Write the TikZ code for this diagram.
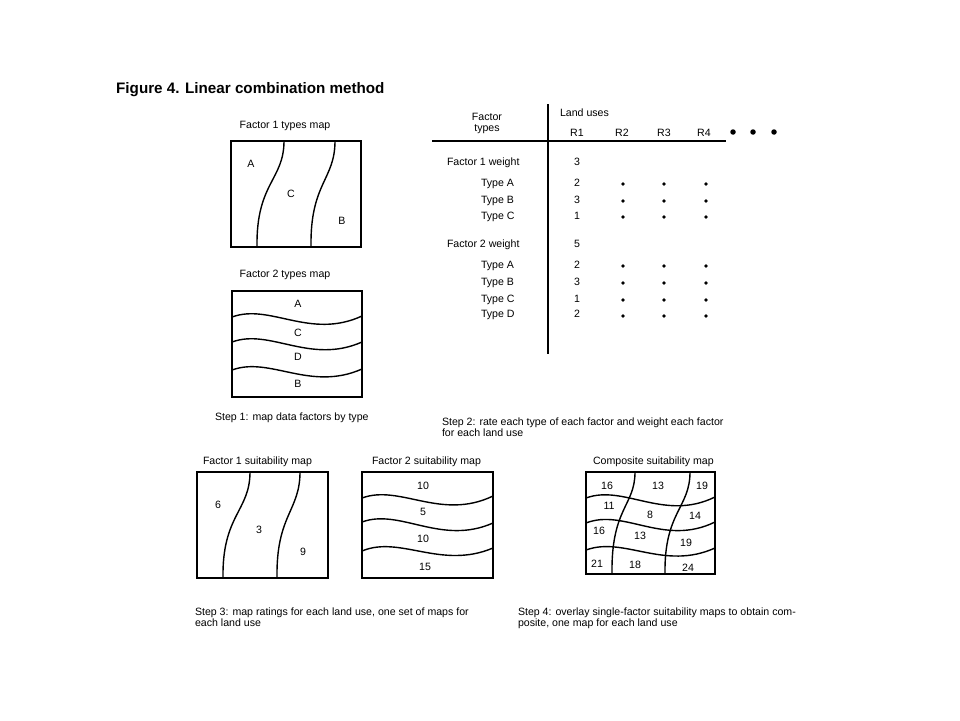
\documentclass[tikz,border=0pt]{standalone}
\usepackage{fontspec}
\setmainfont{Liberation Sans}
\newcommand\myfs{\fontsize{10.6pt}{11pt}\selectfont}
\newcommand\mytitlefs{\fontsize{15.2pt}{17pt}\selectfont\bfseries}
\begin{document}
\begin{tikzpicture}[x=1pt,y=-1pt,
  txt/.style={font=\myfs, inner sep=0pt, outer sep=0pt},
  lab/.style={font=\myfs, inner sep=0pt, anchor=center},
  mapbox/.style={draw, line width=1.4pt},
  bound/.style={line width=1.4pt},
  rule/.style={line width=1.5pt},
  bigdot/.style={fill, circle, inner sep=0pt, minimum size=5.5pt},
  smalldot/.style={fill, circle, inner sep=0pt, minimum size=3.8pt}]
\useasboundingbox (0,0) rectangle (960,720);
\fill[white] (0,0) rectangle (960,720);

% title
\node[font=\mytitlefs, inner sep=0pt, anchor=base west] (title) at (116,93) {Figure 4. Linear combination method};

% ---------- Factor 1 types map ----------
\node[txt, anchor=base] (f1t) at (285,128) {Factor 1 types map};
\draw[mapbox] (231,141) rectangle (361,247);
\draw[bound] (284,141) .. controls (284,180) and (256,183) .. (257,247);
\draw[bound] (335,141) .. controls (335,180) and (310,183) .. (311,247);
\node[lab] (f1a) at (251,164) {A};
\node[lab] (f1c) at (291,194) {C};
\node[lab] (f1b) at (342,221) {B};

% ---------- Factor 2 types map ----------
\node[txt, anchor=base] (f2t) at (285,277) {Factor 2 types map};
\draw[mapbox] (232,291) rectangle (362,397);
\draw[bound] (232,317) .. controls (270,303) and (310,340) .. (362,316);
\draw[bound] (232,342) .. controls (270,328) and (310,365) .. (362,342);
\draw[bound] (232,370) .. controls (270,356) and (310,392) .. (362,369);
\node[lab] (f2a) at (298,304) {A};
\node[lab] (f2c) at (298,333) {C};
\node[lab] (f2d) at (298,357) {D};
\node[lab] (f2b) at (298,384) {B};
\node[txt, anchor=base west] (step1) at (215,420) {Step 1: map data factors by type};

% ---------- Table ----------
\draw[rule] (548,104) -- (548,354);
\draw[rule] (432,141) -- (726,141);
\node[txt, anchor=base] (hf) at (487,120) {Factor};
\node[txt, anchor=base] (ht) at (487,131) {types};
\node[txt, anchor=base west] (lu) at (560,116) {Land uses};
\node[txt, anchor=base] (r1) at (577,136) {R1};
\node[txt, anchor=base] (r2) at (622,136) {R2};
\node[txt, anchor=base] (r3) at (664,136) {R3};
\node[txt, anchor=base] (r4) at (704,136) {R4};
\node[bigdot] (bd1) at (733,132) {};
\node[bigdot] (bd2) at (753,132) {};
\node[bigdot] (bd3) at (774,132) {};

\node[txt, anchor=base west] (w1) at (447,165) {Factor 1 weight};
\node[txt, anchor=base] (w1v) at (577,165) {3};
\node[txt, anchor=base west] (t1a) at (481,186) {Type A};
\node[txt, anchor=base west] (t1b) at (481,203) {Type B};
\node[txt, anchor=base west] (t1c) at (481,219) {Type C};
\node[txt, anchor=base] (v1a) at (577,186) {2};
\node[txt, anchor=base] (v1b) at (577,203) {3};
\node[txt, anchor=base] (v1c) at (577,219) {1};

\node[txt, anchor=base west] (w2) at (447,247) {Factor 2 weight};
\node[txt, anchor=base] (w2v) at (577,247) {5};
\node[txt, anchor=base west] (t2a) at (481,268) {Type A};
\node[txt, anchor=base west] (t2b) at (481,285) {Type B};
\node[txt, anchor=base west] (t2c) at (481,302) {Type C};
\node[txt, anchor=base west] (t2d) at (481,317) {Type D};
\node[txt, anchor=base] (v2a) at (577,268) {2};
\node[txt, anchor=base] (v2b) at (577,285) {3};
\node[txt, anchor=base] (v2c) at (577,302) {1};
\node[txt, anchor=base] (v2d) at (577,317) {2};

\foreach \yy [count=\i] in {184,201,217,266,283,300,316}{
  \node[smalldot] (sa\i) at (623,\yy) {};
  \node[smalldot] (sb\i) at (664,\yy) {};
  \node[smalldot] (sc\i) at (706,\yy) {};
}

\node[txt, anchor=base west] (step2a) at (442,425) {Step 2: rate each type of each factor and weight each factor};
\node[txt, anchor=base west] (step2b) at (442,436) {for each land use};

% ---------- Factor 1 suitability map ----------
\node[txt, anchor=base west] (f1s) at (203,464) {Factor 1 suitability map};
\draw[mapbox] (197,472) rectangle (328,578);
\draw[bound] (250,472) .. controls (250,511) and (222,515) .. (223,578);
\draw[bound] (300,472) .. controls (300,511) and (276,515) .. (277,578);
\node[lab] (s6) at (218,505) {6};
\node[lab] (s3) at (259,530) {3};
\node[lab] (s9) at (303,552) {9};

% ---------- Factor 2 suitability map ----------
\node[txt, anchor=base west] (f2s) at (372,464) {Factor 2 suitability map};
\draw[mapbox] (362,472) rectangle (493,578);
\draw[bound] (362,498) .. controls (400,484) and (441,521) .. (493,496);
\draw[bound] (362,522) .. controls (400,508) and (441,546) .. (493,523);
\draw[bound] (362,551) .. controls (400,535) and (441,570) .. (493,548);
\node[lab] (q10a) at (423,486) {10};
\node[lab] (q5) at (423,512) {5};
\node[lab] (q10b) at (423,539) {10};
\node[lab] (q15) at (425,567) {15};

\node[txt, anchor=base west] (step3a) at (195,615) {Step 3: map ratings for each land use, one set of maps for};
\node[txt, anchor=base west] (step3b) at (195,626) {each land use};

% ---------- Composite suitability map ----------
\node[txt, anchor=base west] (cs) at (593,464) {Composite suitability map};
\draw[mapbox] (586,472) rectangle (715,574);
\draw[bound] (635,472) .. controls (635,506) and (611,508) .. (612,574);
\draw[bound] (690,472) .. controls (690,508) and (664,512) .. (665,574);
\draw[bound] (586,498) .. controls (624,484) and (664,522) .. (715,497);
\draw[bound] (586,523) .. controls (624,508) and (664,547) .. (715,522);
\draw[bound] (586,550) .. controls (624,536) and (664,571) .. (715,548);
\node[lab] (c16a) at (607,486) {16};
\node[lab] (c13a) at (658,486) {13};
\node[lab] (c19a) at (702,486) {19};
\node[lab] (c11) at (609,506) {11};
\node[lab] (c8) at (650,515) {8};
\node[lab] (c14) at (695,516) {14};
\node[lab] (c16b) at (599,531) {16};
\node[lab] (c13b) at (640,536) {13};
\node[lab] (c19b) at (686,543) {19};
\node[lab] (c21) at (597,564) {21};
\node[lab] (c18) at (635,565) {18};
\node[lab] (c24) at (688,568) {24};

\node[txt, anchor=base west] (step4a) at (518,615) {Step 4: overlay single-factor suitability maps to obtain com-};
\node[txt, anchor=base west] (step4b) at (518,626) {posite, one map for each land use};
\end{tikzpicture}
\end{document}
